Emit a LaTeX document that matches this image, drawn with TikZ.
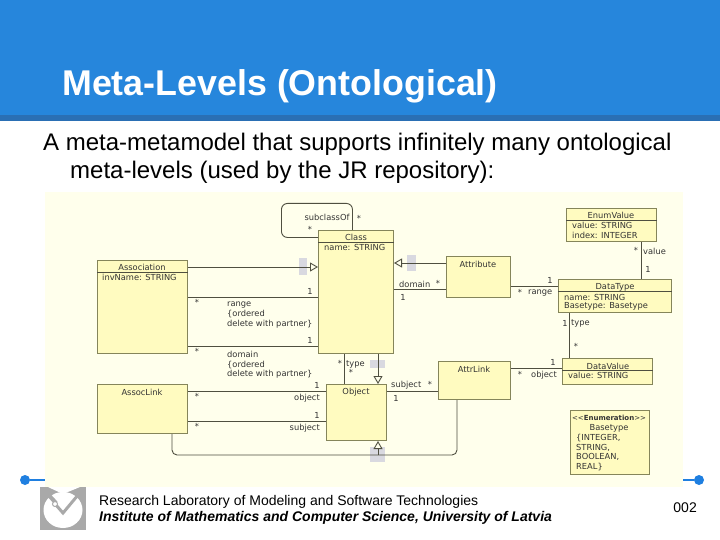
\documentclass[tikz,border=0pt]{standalone}
\usepackage{fontspec}
\setmainfont{Liberation Sans}
\newfontfamily\umlfont{DejaVu Sans}
\usetikzlibrary{arrows.meta}
\definecolor{hdrblue}{HTML}{2686DC}
\definecolor{hdrdark}{HTML}{2A6FB4}
\definecolor{dotblue}{HTML}{1F7FE0}
\definecolor{canvascol}{HTML}{FFFFEC}
\definecolor{boxfill}{HTML}{FFFBC0}
\definecolor{boxedge}{HTML}{85855A}
\definecolor{wirecol}{HTML}{4F4F40}
\definecolor{logogray}{HTML}{A9A9A9}
\definecolor{shadegray}{HTML}{D9D9E0}
\tikzset{
  umlbox/.style={draw=boxedge,fill=boxfill,line width=1pt,anchor=north west,inner sep=0pt},
  umltxt/.style={font=\umlfont\fontsize{8.3}{9.7}\selectfont,text=black!80,inner sep=0pt},
  umlleft/.style={umltxt,anchor=west,align=left},
  assocwire/.style={wirecol,line width=0.9pt},
  genwire/.style={assocwire,-{Triangle[open,fill=canvascol,length=8pt,width=9pt]}},
  shadeblk/.style={fill=shadegray},
  dotwire/.style={dotblue,line width=1.2pt},
}
\begin{document}
\begin{tikzpicture}[x=1pt,y=-1pt]
  \useasboundingbox (0,0) rectangle (720,540);
  % slide frame
  \fill[hdrblue] (0,0) rectangle (720,115);
  \fill[hdrdark] (0,115) rectangle (720,121);
  \node[anchor=base west,inner sep=0pt,text=white,font=\bfseries\fontsize{35.8}{40}\selectfont] (title) at (62,96) {Meta-Levels (Ontological)};
  \node[anchor=base west,inner sep=0pt,font=\fontsize{24}{28}\selectfont] (line1) at (43,151) {A meta-metamodel that supports infinitely many ontological};
  \node[anchor=base west,inner sep=0pt,font=\fontsize{24}{28}\selectfont] (line2) at (70,179) {meta-levels (used by the JR repository):};
  \fill[canvascol] (45,192) rectangle (683,487);
  % footer
  \node[circle,fill=dotblue,minimum size=10pt,inner sep=0pt] (dotl) at (25,480) {};
  \node[circle,fill=dotblue,minimum size=10pt,inner sep=0pt] (dotr) at (699,480) {};
  \coordinate (dotlend) at (45,480);
  \coordinate (dotrend) at (683,480);
  \draw[dotwire] (dotl) -- (dotlend);
  \draw[dotwire] (dotr) -- (dotrend);
  \fill[logogray] (40,487) rectangle (86,530);
  \fill[white] (48,487) -- (80,487) -- (63,494) -- cycle;
  \fill[white] (63,510) ellipse (19.5 and 18);
  \draw[logogray,line width=4pt] (44,490) -- (56,503);
  \draw[logogray,line width=3pt] (56,505) -- (63,513) -- (83,489);
  \draw[logogray,fill=white,line width=1pt] (55,504) circle (2.5);
  \node[anchor=base west,inner sep=0pt,font=\fontsize{14}{16}\selectfont] (foot1) at (99,505) {Research Laboratory of Modeling and Software Technologies};
  \node[anchor=base west,inner sep=0pt,font=\bfseries\itshape\fontsize{14}{16}\selectfont] (foot2) at (99,521) {Institute of Mathematics and Computer Science, University of Latvia};
  \node[anchor=base east,inner sep=0pt,font=\fontsize{14}{16}\selectfont] (pagenum) at (697,512) {002};
  % shaded marks
  \fill[shadeblk] (299,258) rectangle (307,275);
  \fill[shadeblk] (407,255) rectangle (416,271);
  \fill[shadeblk] (370,360) rectangle (385,368);
  \fill[shadeblk] (370,447) rectangle (385,462);
  % self loop goes under the class box
  \node[draw=wirecol,line width=0.9pt,rounded corners=6pt,anchor=north west,minimum width=71,minimum height=34,inner sep=0pt] (loop) at (281,203) {};
  % boxes
  \node[umlbox,minimum width=75,minimum height=123] (Class) at (318,230) {};
  \node[umlbox,minimum width=90,minimum height=93] (Association) at (97,260) {};
  \node[umlbox,minimum width=90,minimum height=49] (AssocLink) at (97,384) {};
  \node[umlbox,minimum width=60,minimum height=56] (Object) at (326,384) {};
  \node[umlbox,minimum width=64,minimum height=41] (Attribute) at (446,256) {};
  \node[umlbox,minimum width=72,minimum height=38] (AttrLink) at (438,361) {};
  \node[umlbox,minimum width=90,minimum height=33] (EnumValue) at (566,208) {};
  \node[umlbox,minimum width=113,minimum height=33] (DataType) at (558,279) {};
  \node[umlbox,minimum width=90,minimum height=26] (DataValue) at (562,358) {};
  \node[umlbox,minimum width=79,minimum height=64] (Basetype) at (570,410) {};
  % header rules
  \draw[wirecol,line width=0.8pt] ([yshift=-12pt]Class.north west) -- ([yshift=-12pt]Class.north east);
  \draw[wirecol,line width=0.8pt] ([yshift=-12pt]Association.north west) -- ([yshift=-12pt]Association.north east);
  \draw[wirecol,line width=0.8pt] ([yshift=-12pt]EnumValue.north west) -- ([yshift=-12pt]EnumValue.north east);
  \draw[wirecol,line width=0.8pt] ([yshift=-12pt]DataType.north west) -- ([yshift=-12pt]DataType.north east);
  \draw[wirecol,line width=0.8pt] ([yshift=-12pt]DataValue.north west) -- ([yshift=-12pt]DataValue.north east);
  % connectors
  \draw[genwire] ([yshift=-7pt]Association.north east) -- ([yshift=-37pt]Class.north west);
  \draw[assocwire] ([yshift=-37pt]Association.north east) -- ([yshift=-67pt]Class.north west);
  \draw[assocwire] ([yshift=-86pt]Association.north east) -- ([yshift=-116pt]Class.north west);
  \draw[genwire] ([yshift=-7pt]Attribute.north west) -- ([yshift=-33pt]Class.north east);
  \draw[assocwire] ([yshift=-33pt]Attribute.north west) -- ([yshift=-59pt]Class.north east);
  \draw[assocwire] ([yshift=-30pt]Attribute.north east) -- ([yshift=-7pt]DataType.north west);
  \draw[assocwire] ([xshift=75pt]EnumValue.south west) -- ([xshift=83pt]DataType.north west);
  \draw[assocwire] ([xshift=11pt]DataType.south west) -- ([xshift=7pt]DataValue.north west);
  \draw[assocwire] ([yshift=-7pt]AttrLink.north east) -- ([yshift=-10pt]DataValue.north west);
  \draw[assocwire] ([xshift=26pt]Class.south west) -- ([xshift=18pt]Object.north west);
  \draw[genwire] ([xshift=60pt]Class.south west) -- ([xshift=52pt]Object.north west);
  \draw[assocwire] ([yshift=-7pt]Object.north east) -- ([yshift=-30pt]AttrLink.north west);
  \draw[assocwire] ([yshift=-7pt]AssocLink.north east) -- ([yshift=-7pt]Object.north west);
  \draw[assocwire] ([yshift=-37pt]AssocLink.north east) -- ([yshift=-37pt]Object.north west);
  \draw[assocwire,rounded corners=5pt] ([xshift=75pt]AssocLink.south west) |- (457,455) -- ([xshift=19pt]AttrLink.south west);
  \coordinate (genstart) at (378,455);
  \draw[genwire] (genstart) -- ([xshift=52pt]Object.south west);
  % box titles
  \node[umltxt] (t1) at (356,237) {Class};
  \node[umlleft] (t2) at (324,247) {name: STRING};
  \node[umltxt] (t3) at (142,267) {Association};
  \node[umlleft] (t4) at (102,277) {invName: STRING};
  \node[umltxt] (t5) at (142,392) {AssocLink};
  \node[umltxt] (t6) at (356,392) {Object};
  \node[umltxt] (t7) at (478,264) {Attribute};
  \node[umltxt] (t8) at (474,369) {AttrLink};
  \node[umltxt] (t9) at (611,215) {EnumValue};
  \node[umlleft] (t10) at (572,225) {value: STRING};
  \node[umlleft] (t11) at (572,235) {index: INTEGER};
  \node[umltxt] (t12) at (615,287) {DataType};
  \node[umlleft] (t13) at (564,297) {name: STRING};
  \node[umlleft] (t14) at (564,306) {Basetype: Basetype};
  \node[umltxt] (t15) at (608,366) {DataValue};
  \node[umlleft] (t16) at (568,375) {value: STRING};
  \node[umltxt] (t17) at (609,418) {\fontsize{7}{9}\selectfont<<\textbf{Enumeration}>>};
  \node[umltxt] (t18) at (609,428) {Basetype};
  \node[umlleft,anchor=north west] (t19) at (576,434) {\{INTEGER,\\STRING,\\BOOLEAN,\\REAL\}};
  % association labels
  \node[umltxt] (l1) at (327,217) {subclassOf};
  \node[umltxt] (l2) at (359,218) {*};
  \node[umltxt] (l3) at (310,229) {*};
  \node[umltxt] (l4) at (310,291) {1};
  \node[umltxt] (l5) at (197,302) {*};
  \node[umlleft,anchor=north west] (l6) at (227,302) {range\\\{ordered\\delete with partner\}};
  \node[umltxt] (l7) at (310,340) {1};
  \node[umltxt] (l8) at (197,351) {*};
  \node[umlleft,anchor=north west] (l9) at (227,351) {domain\\\{ordered\\delete with partner\}};
  \node[umlleft] (l10) at (399,284) {domain};
  \node[umltxt] (l11) at (438,283) {*};
  \node[umltxt] (l12) at (403,297) {1};
  \node[umltxt] (l13) at (550,280) {1};
  \node[umltxt] (l14) at (520,292) {*};
  \node[umlleft] (l15) at (528,293) {range};
  \node[umltxt] (l16) at (636,250) {*};
  \node[umlleft] (l17) at (643,251) {value};
  \node[umltxt] (l18) at (648,269) {1};
  \node[umltxt] (l19) at (565,323) {1};
  \node[umlleft] (l20) at (571,323) {type};
  \node[umltxt] (l21) at (576,346) {*};
  \node[umltxt] (l22) at (553,362) {1};
  \node[umltxt] (l23) at (520,374) {*};
  \node[umlleft] (l24) at (531,375) {object};
  \node[umltxt] (l25) at (340,363) {*};
  \node[umlleft] (l26) at (346,364) {type};
  \node[umltxt] (l27) at (351,372) {*};
  \node[umlleft] (l28) at (391,385) {subject};
  \node[umltxt] (l29) at (430,384) {*};
  \node[umltxt] (l30) at (396,398) {1};
  \node[umltxt] (l31) at (197,396) {*};
  \node[umltxt] (l32) at (317,385) {1};
  \node[umltxt,anchor=east] (l33) at (320,398) {object};
  \node[umltxt] (l34) at (197,426) {*};
  \node[umltxt] (l35) at (317,415) {1};
  \node[umltxt,anchor=east] (l36) at (320,428) {subject};
\end{tikzpicture}
\end{document}
